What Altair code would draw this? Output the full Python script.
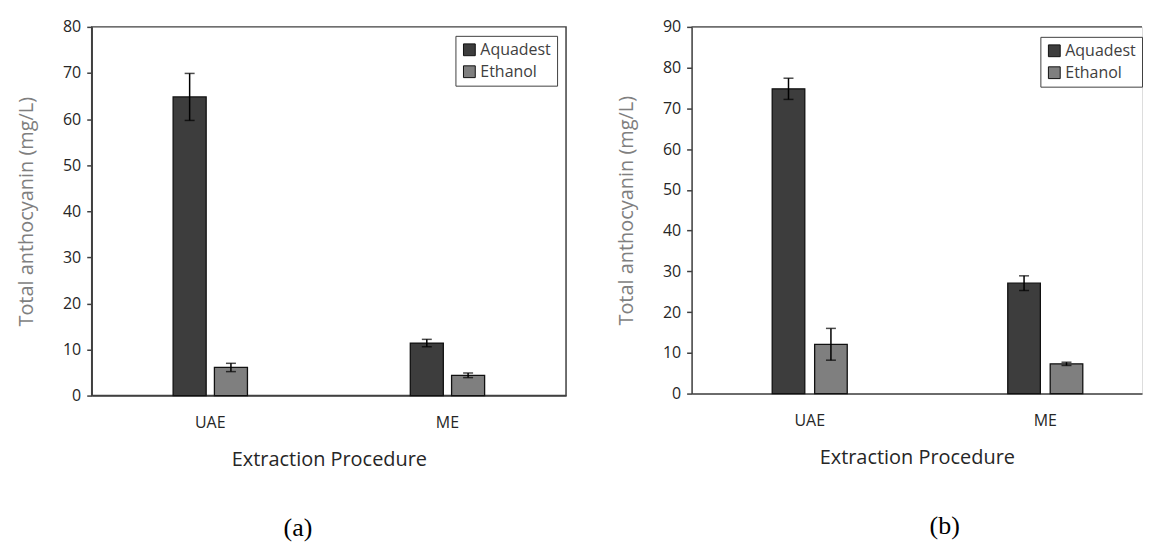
import altair as alt
import pandas as pd

# ---- data ----
methods = ["UAE", "ME"]
solvents = ["Aquadest", "Ethanol"]

a_aquadest = [64.8, 11.4]
a_ethanol = [6.1, 4.4]
a_aquadest_err = [5.1, 0.8]
a_ethanol_err = [0.9, 0.5]

b_aquadest = [74.8, 27.1]
b_ethanol = [12.1, 7.3]
b_aquadest_err = [2.6, 1.8]
b_ethanol_err = [3.9, 0.4]

a_ticks = [0, 10, 20, 30, 40, 50, 60, 70, 80]
b_ticks = [0, 10, 20, 30, 40, 50, 60, 70, 80, 90]

bar_colors = ["#3d3d3d", "#7f7f7f"]
FONT = "Open Sans"
YTITLE = "Total anthocyanin (mg/L)"
XTITLE = "Extraction Procedure"


def make_df(aq, et, aqe, ete):
    rows = []
    for i, m in enumerate(methods):
        rows.append({"method": m, "solvent": "Aquadest", "value": aq[i], "err": aqe[i]})
        rows.append({"method": m, "solvent": "Ethanol", "value": et[i], "err": ete[i]})
    df = pd.DataFrame(rows)
    df["lo"] = df["value"] - df["err"]
    df["hi"] = df["value"] + df["err"]
    return df


def panel(df, ymax, ticks, width, height, xscale, offscale, lx, ly, caption, cdx, framed):
    base = alt.Chart(df)
    x_axis = alt.Axis(
        title=XTITLE, labelAngle=0, ticks=False, domain=True, domainColor="#404040",
        domainWidth=1.5, labelFont=FONT, labelFontSize=16, labelColor="#262626",
        labelPadding=19, titleFont=FONT, titleFontSize=20, titleFontWeight="normal",
        titleColor="#262626", titlePadding=19,
    )
    x = alt.X("method:N", sort=methods, scale=xscale, axis=x_axis)
    xo = alt.XOffset("solvent:N", sort=solvents, scale=offscale)
    yscale = alt.Scale(domain=[0, ymax], nice=False, zero=True)
    y_axis = alt.Axis(
        values=ticks, title=YTITLE, grid=False, tickSize=5, tickColor="#404040",
        tickWidth=1.5, domainColor="#404040", domainWidth=1.5, labelFont=FONT,
        labelFontSize=16, labelColor="#262626", labelPadding=6, titleFont=FONT,
        titleFontSize=20, titleFontWeight="normal", titleColor="#7f7f7f", titlePadding=26,
    )
    color = alt.Color(
        "solvent:N", sort=solvents,
        scale=alt.Scale(domain=solvents, range=bar_colors),
        legend=alt.Legend(
            title=None, orient="none", legendX=lx, legendY=ly, symbolType="square",
            symbolSize=140, symbolStrokeColor="#111111", symbolStrokeWidth=1,
            labelFont=FONT, labelFontSize=16, labelColor="#404040", labelOffset=3,
            strokeColor="#404040", fillColor="white", padding=6, rowPadding=6,
        ),
    )
    bars = base.mark_bar(stroke="#111111", strokeWidth=1.3).encode(
        x=x, xOffset=xo,
        y=alt.Y("value:Q", scale=yscale, axis=y_axis, title=YTITLE),
        color=color,
    )
    rules = base.mark_rule(color="black", strokeWidth=1.5).encode(
        x=alt.X("method:N", sort=methods), xOffset=xo,
        y=alt.Y("lo:Q", title=YTITLE), y2="hi:Q",
    )
    cap_lo = base.mark_tick(color="black", thickness=1.5, size=10).encode(
        x=alt.X("method:N", sort=methods), xOffset=xo, y=alt.Y("lo:Q", title=YTITLE)
    )
    cap_hi = base.mark_tick(color="black", thickness=1.5, size=10).encode(
        x=alt.X("method:N", sort=methods), xOffset=xo, y=alt.Y("hi:Q", title=YTITLE)
    )
    layers = [bars, rules, cap_lo, cap_hi]
    if not framed:
        top = alt.Chart(pd.DataFrame({"k": [0]})).mark_rule(
            color="#404040", strokeWidth=1.5
        ).encode(x=alt.value(0), x2=alt.value(width), y=alt.value(0))
        layers.append(top)
    ch = alt.layer(*layers).properties(
        width=width, height=height,
        title=alt.TitleParams(
            text=caption, orient="bottom", anchor="middle", frame="group",
            font="Liberation Serif", fontSize=26, fontWeight="normal", color="black",
            dx=cdx, offset=46,
        ),
    )
    if framed:
        ch = ch.properties(view=alt.ViewBackground(stroke="#404040", strokeWidth=1.5))
    return ch


df_a = make_df(a_aquadest, a_ethanol, a_aquadest_err, a_ethanol_err)
df_b = make_df(b_aquadest, b_ethanol, b_aquadest_err, b_ethanol_err)

pa = panel(
    df_a, 80, a_ticks, 476, 370,
    alt.Scale(paddingInner=0.6866, paddingOuter=0.3433),
    alt.Scale(paddingInner=0.2, paddingOuter=0),
    365, 9, "(a)", -31, True,
)
pb = panel(
    df_b, 90, b_ticks, 452, 368,
    alt.Scale(paddingInner=0.6815, paddingOuter=0.2968, align=0.5765),
    alt.Scale(paddingInner=0.232, paddingOuter=0),
    350, 10, "(b)", 28, False,
)

chart = (
    alt.hconcat(pa, pb, spacing=49)
    .resolve_scale(x="independent", y="independent", color="independent", xOffset="independent")
    .resolve_legend(color="independent")
    .properties(padding={"left": 7, "top": 9, "right": 0, "bottom": 0})
    .configure_view(stroke=None)
    .configure(font=FONT)
)

chart.save("out.html", embed_options={"renderer": "svg", "actions": False})
